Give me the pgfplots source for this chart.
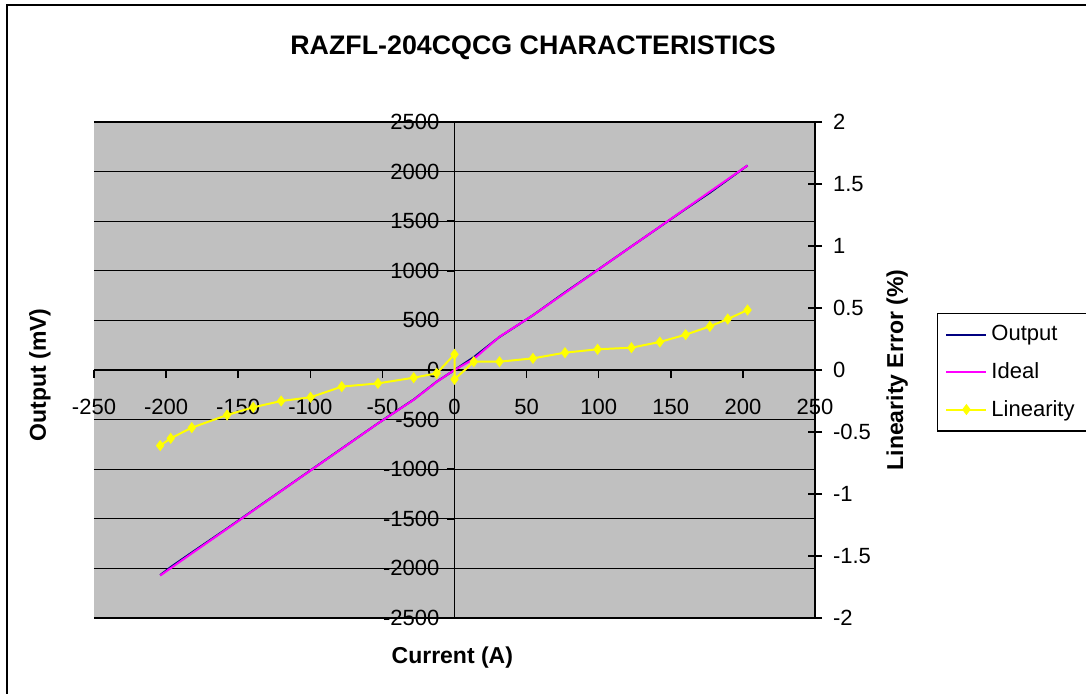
\documentclass[border=0pt]{standalone}
\usepackage{pgfplots}
\pgfplotsset{compat=1.18}
\usepackage{fontspec}
\setmainfont{Liberation Sans}
\definecolor{plotgrey}{HTML}{C0C0C0}
\definecolor{navyc}{HTML}{000080}
\definecolor{magc}{HTML}{FF00FF}
\definecolor{yelc}{HTML}{FFFF00}
\pgfplotstableread{
x out ideal
-204.1 -2068 -2072
-196.8 -1986 -1998
-182.2 -1840 -1849
-157.7 -1597 -1601
-139.6 -1414 -1417
-120.2 -1218 -1220
-99.8 -1011 -1013
-78.2 -792 -794
-53.1 -538 -539
-28.3 -298 -300
-12.4 -118 -120
0 0 0
13.4 130 112
31.2 333 335
54.4 552 552
76.6 782 777
99.2 1008 1007
122.7 1246 1245
142.4 1444 1445
160.3 1624 1627
177.1 1788 1798
189.5 1918 1923
203.2 2062 2062
}\datatab
\pgfplotstableread{
x lin
-204.1 -0.610
-196.8 -0.551
-182.2 -0.465
-157.7 -0.363
-139.6 -0.301
-120.2 -0.250
-99.8 -0.220
-78.2 -0.134
-53.1 -0.108
-28.3 -0.062
-12.4 -0.027
0 0.126
0 -0.075
13.4 0.067
31.2 0.067
54.4 0.094
76.6 0.140
99.2 0.167
122.7 0.180
142.4 0.226
160.3 0.285
177.1 0.352
189.5 0.411
203.2 0.484
}\lintab
\begin{document}
\begin{tikzpicture}
\useasboundingbox (0,0) rectangle (543pt,346.5pt);
\draw[line width=1pt] (3.5pt,-5pt) -- (3.5pt,344pt) -- (560pt,344pt);
\pgfplotsset{
  common/.style={
    scale only axis, width=360.5pt, height=248pt,
    at={(47pt,37.5pt)}, anchor=south west,
    xmin=-250, xmax=250,
    /pgf/number format/assume math mode=true,
    /pgf/number format/1000 sep={},
    scaled ticks=false,
    tick label style={font=\fontsize{11}{13}\selectfont},
  }
}
\begin{axis}[common,
  ymin=-2500, ymax=2500,
  axis lines=middle,
  axis line style={-, black, line width=0.75pt},
  axis background/.style={fill=plotgrey},
  xtick={-250,-200,...,250}, ytick={-2500,-2000,...,2500},
  hide obscured x ticks=false, hide obscured y ticks=false,
  tick align=outside, major tick length=4pt,
  tick style={black, line width=0.75pt},
  ymajorgrids, major grid style={black, line width=0.6pt},
  xlabel={Current (A)}, ylabel={Output (mV)},
  every axis x label/.style={at={(axis description cs:0.497,-0.079)}, anchor=center, font=\bfseries\fontsize{11.5}{14}\selectfont},
  every axis y label/.style={at={(axis description cs:-0.075,0.49)}, anchor=center, rotate=90, font=\bfseries\fontsize{11.5}{14}\selectfont},
  title={RAZFL-204CQCG CHARACTERISTICS},
  every axis title/.style={at={(axis description cs:0.609,1.149)}, anchor=center, font=\bfseries\fontsize{13.4}{16}\selectfont},
  xticklabel style={yshift=-7pt},
]
\addplot[navyc, line width=1pt] table[x=x, y=out] {\datatab};
\addplot[magc, line width=1pt] table[x=x, y=ideal] {\datatab};
\end{axis}
\begin{axis}[common,
  ymin=-2, ymax=2,
  axis x line=none, axis y line*=right,
  axis line style={-, black, line width=0.75pt},
  ytick={-2,-1.5,...,2},
  tick align=center, major tick length=7pt,
  tick style={black, line width=0.75pt},
  yticklabel style={anchor=west, xshift=2pt},
  ylabel={Linearity Error (\%)},
  every axis y label/.style={at={(axis description cs:1.114,0.5)}, anchor=center, rotate=90, font=\bfseries\fontsize{11.5}{14}\selectfont},
  legend style={at={(axis description cs:1.169,0.615)}, anchor=north west, draw=black, line width=0.6pt, fill=white, font=\fontsize{11}{13}\selectfont, row sep=5.3pt, inner xsep=4pt, inner ysep=4pt},
  legend cell align=left,
  legend image code/.code={\draw[mark repeat=2, mark phase=2, #1] plot coordinates {(0pt,0pt) (10pt,0pt) (20pt,0pt)};},
]
\addlegendimage{navyc, line width=1pt}
\addlegendentry{Output}
\addlegendimage{magc, line width=1pt}
\addlegendentry{Ideal}
\addplot[yelc, line width=1pt, mark=diamond*, mark size=2pt, mark options={fill=yelc, draw=yelc}] table[x=x, y=lin] {\lintab};
\addlegendentry{Linearity}
\end{axis}
\end{tikzpicture}
\end{document}
